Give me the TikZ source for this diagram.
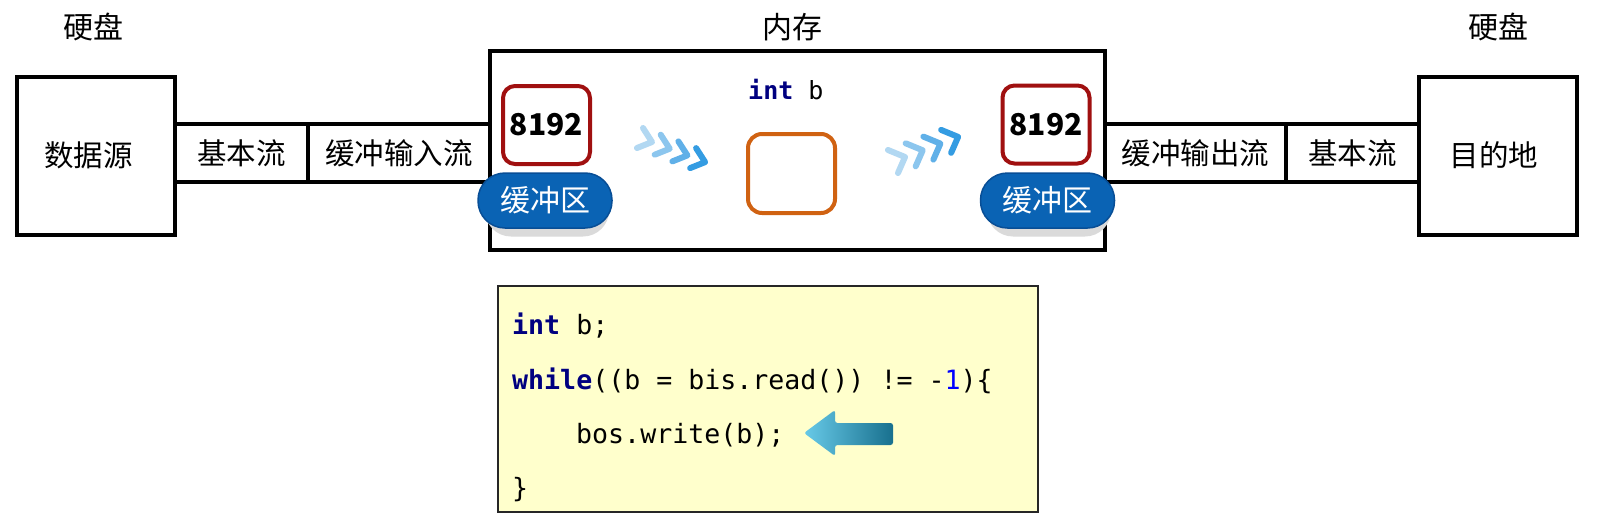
\documentclass[tikz,border=0pt]{standalone}
\usepackage{fontspec}
\setmainfont{Noto Sans CJK SC}
\setmonofont{DejaVu Sans Mono}
\definecolor{navy}{RGB}{0,0,128}
\definecolor{kblue}{RGB}{0,0,255}
\definecolor{bufred}{RGB}{160,16,16}
\definecolor{varorange}{RGB}{208,98,18}
\definecolor{pillblue}{RGB}{10,99,180}
\definecolor{pilledge}{RGB}{8,78,150}
\definecolor{shadowgray}{RGB}{218,218,218}
\definecolor{codebg}{RGB}{255,255,204}
\definecolor{chevA}{RGB}{178,216,242}
\definecolor{chevB}{RGB}{140,198,238}
\definecolor{chevC}{RGB}{96,176,232}
\definecolor{chevD}{RGB}{52,156,226}
\definecolor{arrowlight}{RGB}{104,202,232}
\definecolor{arrowmid}{RGB}{70,170,205}
\definecolor{arrowdark}{RGB}{24,112,142}
\tikzset{
  cjkfont/.style={font=\fontsize{29.5}{35}\selectfont},
  plainbox/.style={draw=black, line width=4pt, inner sep=0pt, fill=white, cjkfont},
  title/.style={inner sep=0pt, font=\fontsize{30}{36}\selectfont},
  boxtext/.style={inner sep=0pt, cjkfont},
  bufbox/.style={draw=bufred, line width=4pt, rounded corners=12pt, fill=white,
    minimum width=87pt, minimum height=78pt, inner sep=0pt,
    font=\bfseries\fontsize{30}{36}\selectfont},
  varbox/.style={draw=varorange, line width=4pt, rounded corners=14pt, fill=white,
    minimum width=87pt, minimum height=79pt, inner sep=0pt},
  pill/.style={draw=pilledge, line width=1.5pt, fill=pillblue, rounded corners=27pt,
    minimum width=134pt, minimum height=55pt, inner sep=0pt, text=white,
    font=\fontsize{30}{36}\selectfont},
  pillshadow/.style={fill=shadowgray, rounded corners=26pt,
    minimum width=124pt, minimum height=55pt, inner sep=0pt},
  chev/.style={line width=6pt, line cap=round, line join=round},
  varline/.style={anchor=base west, inner sep=0pt, font=\ttfamily\fontsize{25}{30}\selectfont},
  codeline/.style={anchor=base west, inner sep=0pt, font=\ttfamily\fontsize{26.6}{32}\selectfont},
}
\begin{document}
\begin{tikzpicture}[x=1pt,y=-1pt]
\fill[white] (0,0) rectangle (1606,522);
\useasboundingbox (0,0) rectangle (1606,522);

% titles
\node[title] (t1) at (93,27) {硬盘};
\node[title] (t2) at (792,27) {内存};
\node[title] (t3) at (1498,27) {硬盘};

% left side
\node[plainbox, minimum width=158pt, minimum height=158pt] (src) at (96,156) {};
\node[boxtext] (srclabel) at (88.5,155) {数据源};
\node[plainbox, minimum width=133pt, minimum height=58pt] (bl) at (241.5,153) {基本流};
\node[plainbox, minimum width=182pt, minimum height=58pt] (bin) at (399,153) {缓冲输入流};

% right side
\node[plainbox, minimum width=181pt, minimum height=58pt] (bout) at (1195.5,153) {缓冲输出流};
\node[plainbox, minimum width=133pt, minimum height=58pt] (br) at (1352.5,153) {基本流};
\node[plainbox, minimum width=158pt, minimum height=158pt] (dst) at (1498,156) {};
\node[boxtext] (dstlabel) at (1494,155) {目的地};

% memory
\node[plainbox, minimum width=615pt, minimum height=199pt] (mem) at (797.5,150.5) {};

% buffers
\node[bufbox] (buf1) at (546.5,125) {8192};
\node[bufbox] (buf2) at (1046,124.5) {8192};
\node[pillshadow] (ps1) at (547,209) {};
\node[pillshadow] (ps2) at (1049,209) {};
\node[pill] (pill1) at (545,200.5) {缓冲区};
\node[pill] (pill2) at (1047.5,200.5) {缓冲区};

% variable
\node[varline] (varlab) at (748,99) {{\bfseries\color{navy}int} b};
\node[varbox] (var) at (791.5,173.5) {};

% chevrons
\foreach \i/\c in {0/chevA,1/chevB,2/chevC,3/chevD}{
  \draw[chev,draw=\c] ({643+17.7*\i},{128+6.7*\i}) -- ({652+17.7*\i},{142+6.7*\i}) -- ({637+17.7*\i},{148+6.7*\i});
  \draw[chev,draw=\c] ({888+17.7*\i},{150-6.7*\i}) -- ({905+17.7*\i},{157-6.7*\i}) -- ({898+17.7*\i},{173-6.7*\i});
}

% code box
\node[draw=black!85, line width=2pt, fill=codebg, minimum width=540pt, minimum height=226pt, inner sep=0pt] (codebox) at (768,399) {};
\node[codeline] (c1) at (512,334) {{\bfseries\color{navy}int} b;};
\node[codeline] (c2) at (512,389) {{\bfseries\color{navy}while}((b = bis.read()) != -{\color{kblue}1})\{};
\node[codeline] (c3) at (576,443) {bos.write(b);};
\node[codeline] (c4) at (512,497) {\}};

% pointer arrow
\shade[left color=arrowlight, middle color=arrowmid, right color=arrowdark, rounded corners=2.5pt]
  (804,433) -- (835,410) -- (835,423) -- (893,423) -- (893,445) -- (835,445) -- (835,456) -- cycle;
\end{tikzpicture}
\end{document}
